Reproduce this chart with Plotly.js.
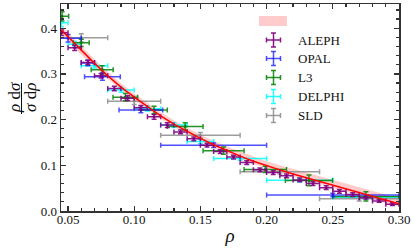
<!DOCTYPE html>
<html>
<head>
<meta charset="utf-8">
<script src="https://cdn.plot.ly/plotly-3.0.1.min.js"></script>
<style>html,body{margin:0;padding:0;background:#fff;}#chart{width:415px;height:252px;}</style>
</head>
<body>
<div id="chart"></div>
<script>
// ---------- data ----------
const rhoTheory = [0.045,0.05,0.06,0.07,0.08,0.09,0.10,0.11,0.12,0.13,0.14,0.15,0.16,0.17,0.18,0.19,0.20,0.21,0.22,0.23,0.24,0.25,0.26,0.27,0.28,0.29,0.30];
const thCentral = [0.396,0.381,0.351,0.323,0.296,0.271,0.249,0.228,0.208,0.190,0.174,0.159,0.145,0.132,0.120,0.109,0.099,0.090,0.081,0.073,0.065,0.057,0.049,0.041,0.033,0.025,0.016];
const thLow     = [0.387,0.372,0.342,0.315,0.289,0.264,0.243,0.222,0.202,0.184,0.168,0.153,0.139,0.126,0.114,0.103,0.093,0.084,0.075,0.067,0.059,0.051,0.043,0.035,0.027,0.019,0.010];
const thHigh    = [0.405,0.390,0.360,0.332,0.305,0.279,0.257,0.236,0.216,0.198,0.182,0.167,0.154,0.141,0.130,0.119,0.109,0.100,0.092,0.084,0.077,0.069,0.061,0.053,0.045,0.037,0.028];

const alephRho    = [0.045,0.055,0.065,0.075,0.085,0.095,0.105,0.115,0.125,0.135,0.145,0.155,0.165,0.175,0.185,0.195,0.205,0.215,0.225,0.235,0.245,0.255,0.265,0.275,0.285,0.295];
const alephVal    = [0.390,0.357,0.325,0.296,0.268,0.247,0.226,0.206,0.188,0.173,0.158,0.144,0.130,0.118,0.106,0.090,0.084,0.077,0.068,0.060,0.051,0.043,0.036,0.029,0.022,0.015];
const alephErr    = [0.006,0.006,0.005,0.005,0.005,0.005,0.005,0.005,0.005,0.004,0.004,0.004,0.004,0.004,0.004,0.004,0.004,0.004,0.004,0.004,0.004,0.004,0.004,0.003,0.003,0.003];
const alephRhoErr = [0.005,0.005,0.005,0.005,0.005,0.005,0.005,0.005,0.005,0.005,0.005,0.005,0.005,0.005,0.005,0.005,0.005,0.005,0.005,0.005,0.005,0.005,0.005,0.005,0.005,0.005];

const opalRho    = [0.050,0.065,0.076,0.105,0.160,0.250];
const opalVal    = [0.378,0.324,0.294,0.221,0.144,0.035];
const opalErr    = [0.008,0.006,0.008,0.006,0.005,0.004];
const opalRhoErr = [0.010,0.005,0.0135,0.0165,0.040,0.050];

const l3Rho    = [0.0455,0.060,0.0758,0.0933,0.115,0.1385,0.1675,0.199,0.232,0.275];
const l3Val    = [0.426,0.368,0.309,0.249,0.221,0.185,0.132,0.091,0.067,0.032];
const l3Err    = [0.010,0.008,0.009,0.008,0.008,0.008,0.008,0.007,0.012,0.010];
const l3RhoErr = [0.005,0.006,0.0083,0.0093,0.010,0.0135,0.0155,0.016,0.0178,0.025];

const delphiRho    = [0.045,0.055,0.070,0.090,0.110,0.130,0.150,0.180,0.225,0.275];
const delphiVal    = [0.412,0.365,0.318,0.265,0.224,0.188,0.152,0.115,0.0675,0.030];
const delphiErr    = [0.008,0.006,0.005,0.005,0.005,0.005,0.005,0.004,0.004,0.004];
const delphiRhoErr = [0.005,0.005,0.010,0.010,0.010,0.010,0.010,0.020,0.025,0.025];

const sldRho    = [0.060,0.100,0.150,0.210,0.270];
const sldVal    = [0.379,0.240,0.166,0.086,0.027];
const sldErr    = [0.009,0.007,0.006,0.005,0.005];
const sldRhoErr = [0.020,0.020,0.030,0.030,0.030];

const xTickFormat = '.2f';
const yTickFormat = '.1f';

// ---------- styling ----------
const FONT = 'Liberation Serif';
const AXC = '#333333';
const series = [
  {name:'ALEPH',  x:alephRho,  y:alephVal,  ey:alephErr,  ex:alephRhoErr,  c:'rgba(128,0,128,0.9)'},
  {name:'OPAL',   x:opalRho,   y:opalVal,   ey:opalErr,   ex:opalRhoErr,   c:'rgba(20,20,255,0.75)'},
  {name:'L3',     x:l3Rho,     y:l3Val,     ey:l3Err,     ex:l3RhoErr,     c:'rgba(0,128,0,0.85)'},
  {name:'DELPHI', x:delphiRho, y:delphiVal, ey:delphiErr, ex:delphiRhoErr, c:'rgba(0,255,255,0.85)'},
  {name:'SLD',    x:sldRho,    y:sldVal,    ey:sldErr,    ex:sldRhoErr,    c:'rgba(140,140,140,0.85)'}
];
const drawOrder = ['SLD','DELPHI','L3','OPAL','ALEPH'];

const traces = [];
traces.push({x:rhoTheory, y:thLow, mode:'lines', line:{width:0,color:'rgba(0,0,0,0)'}, hoverinfo:'skip', showlegend:false});
traces.push({x:rhoTheory, y:thHigh, mode:'lines', line:{width:0,color:'rgba(0,0,0,0)'}, fill:'tonexty', fillcolor:'rgba(255,140,140,0.45)', hoverinfo:'skip', showlegend:false});
drawOrder.forEach(n => {
  const s = series.find(t => t.name === n);
  traces.push({
    x:s.x, y:s.y, name:s.name, mode:'markers',
    marker:{size:3, color:s.c},
    error_y:{type:'data', array:s.ey, visible:true, color:s.c, thickness:1.5, width:2.5},
    error_x:{type:'data', array:s.ex, visible:true, color:s.c, thickness:1.5, width:2.5},
    showlegend:false
  });
});
traces.push({x:rhoTheory, y:thCentral, mode:'lines', line:{color:'#ff0000', width:1.5}, showlegend:false});

// pixel -> paper helpers (plot area: x 61..399, y 4..211)
const PL=61, PR=399, PT=4, PB=211;
const px = v => (v-PL)/(PR-PL);
const py = v => (PB-v)/(PB-PT);

const shapes = [];
const annotations = [];
// legend: band swatch
shapes.push({type:'rect', xref:'paper', yref:'paper', x0:px(259), x1:px(287), y0:py(26), y1:py(16), fillcolor:'rgba(255,140,140,0.45)', line:{width:0}});
const legY = [40, 58.5, 77.5, 96.5, 115.5];
const cx = 273.5, hw = 7, cap = 2.5;
series.forEach((s,i) => {
  const cy = legY[i];
  const L = (x0,y0,x1,y1) => shapes.push({type:'line', xref:'paper', yref:'paper', x0:px(x0), y0:py(y0), x1:px(x1), y1:py(y1), line:{color:s.c, width:1.5}});
  L(cx-hw, cy, cx+hw, cy);
  L(cx, cy-hw, cx, cy+hw);
  L(cx-hw, cy-cap, cx-hw, cy+cap);
  L(cx+hw, cy-cap, cx+hw, cy+cap);
  L(cx-cap, cy-hw, cx+cap, cy-hw);
  L(cx-cap, cy+hw, cx+cap, cy+hw);
  annotations.push({xref:'paper', yref:'paper', x:px(296), y:py(cy), xanchor:'left', yanchor:'middle', showarrow:false, text:s.name, font:{family:FONT, size:13, color:'#111'}});
});
// y-axis title as a fraction
annotations.push({xref:'paper', yref:'paper', x:px(14), y:py(98), xanchor:'center', yanchor:'middle', textangle:-90, showarrow:false, text:'<i>ρ</i> d<i>σ</i>', font:{family:FONT, size:17, color:'#111'}});
annotations.push({xref:'paper', yref:'paper', x:px(30), y:py(98), xanchor:'center', yanchor:'middle', textangle:-90, showarrow:false, text:'<i>σ</i> d<i>ρ</i>', font:{family:FONT, size:17, color:'#111'}});
shapes.push({type:'line', xref:'paper', yref:'paper', x0:px(21.5), x1:px(21.5), y0:py(83), y1:py(114), line:{color:'#111', width:1}});

const axisCommon = {
  showline:true, linecolor:AXC, linewidth:1.5, mirror:'ticks',
  ticks:'inside', ticklen:5, tickwidth:1.3, tickcolor:AXC,
  showgrid:false, zeroline:false,
  tickfont:{family:FONT, size:13, color:'#111'}
};

const layout = {
  width:415, height:252,
  margin:{l:PL, r:415-PR, t:PT, b:252-PB},
  paper_bgcolor:'#fff', plot_bgcolor:'#fff',
  showlegend:false,
  font:{family:FONT},
  xaxis: Object.assign({}, axisCommon, {
    range:[0.0447, 0.30], tick0:0.05, dtick:0.05, tickformat:xTickFormat,
    ticklabelstandoff:-4,
    minor:{tick0:0.05, dtick:0.01, ticks:'inside', ticklen:3, tickwidth:1.2, tickcolor:AXC, showgrid:false},
    title:{text:'<i>ρ</i>', font:{family:FONT, size:19, color:'#111'}, standoff:2}
  }),
  yaxis: Object.assign({}, axisCommon, {
    range:[0, 0.453], tick0:0, dtick:0.1, tickformat:yTickFormat,
    minor:{tick0:0, dtick:0.02, ticks:'inside', ticklen:3, tickwidth:1.2, tickcolor:AXC, showgrid:false}
  }),
  shapes: shapes,
  annotations: annotations
};

Plotly.newPlot('chart', traces, layout, {staticPlot:true, displayModeBar:false});
</script>
</body>
</html>
